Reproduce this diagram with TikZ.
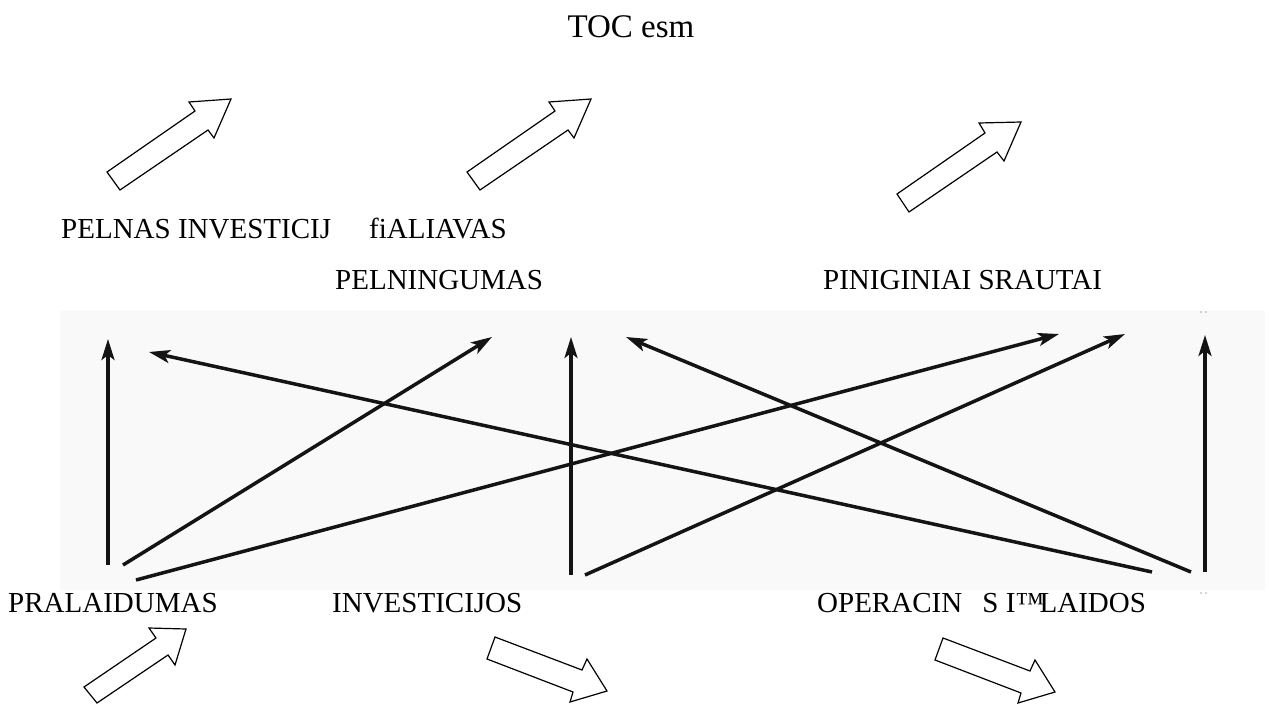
\documentclass[tikz,border=0pt]{standalone}
\usepackage{fontspec}
\setmainfont{Liberation Serif}
\usetikzlibrary{arrows.meta}
\definecolor{panelgray}{RGB}{249,249,249}
\definecolor{speck}{RGB}{170,170,170}
\begin{document}
\begin{tikzpicture}[x=1pt,y=-1pt,
  lbl/.style={font=\fontsize{29}{32}\selectfont, anchor=base west, inner sep=0pt},
  ttl/.style={font=\fontsize{33}{36}\selectfont, anchor=base, inner sep=0pt},
  blockarrow/.style={draw=black, line width=1.2pt, fill=white, line join=miter},
  link/.style={line width=3.5pt, draw=black!92, -{Stealth[length=21pt,width=13pt,inset=5pt]}},
]
\useasboundingbox (0,0) rectangle (1269,704);

% light panel behind the connectors
\fill[panelgray] (60,311) rectangle (1265,590);

% title and labels
\node[ttl] (title) at (631,37) {TOC esm};
\node[lbl] (pelnas) at (61,238) {PELNAS INVESTICIJ};
\node[lbl] (zaliavas) at (369,238) {fiALIAVAS};
\node[lbl] (pelningumas) at (335,289) {PELNINGUMAS};
\node[lbl] (srautai) at (823,289) {PINIGINIAI SRAUTAI};
\node[lbl] (pralaidumas) at (8,612) {PRALAIDUMAS};
\node[lbl] (investicijos) at (332,612) {INVESTICIJOS};
\node[lbl] (islaidos) at (817,612) {OPERACIN\hspace{0.7em}S I™\kern-0.15emLAIDOS};

% hollow block arrows pointing up-right (top row)
\foreach \dx/\dy in {0/0, 360/0} {
  \draw[blockarrow, shift={(\dx,\dy)}]
    (107,172) -- (195,111) -- (189,102) -- (231,99) -- (214,138) -- (208,130) -- (120,190) -- cycle;
}
\draw[blockarrow]
  (897,194) -- (985,133) -- (979,123) -- (1021,122) -- (1004,161) -- (997,152) -- (909,212) -- cycle;

% hollow block arrows (bottom row)
\draw[blockarrow]
  (84,687) -- (156,638) -- (149,628) -- (186,629) -- (175,665) -- (168,655) -- (97,703) -- cycle;
\foreach \dx/\dy in {0/0, 448/1} {
  \draw[blockarrow, shift={(\dx,\dy)}]
    (495,637) -- (582,670) -- (587,659) -- (607,691) -- (570,702) -- (573,692) -- (487,659) -- cycle;
}

% connector end points
\coordinate (p1) at (108,565);  \coordinate (q1) at (108,339);
\coordinate (p2) at (123,565);  \coordinate (q2) at (492,337);
\coordinate (p3) at (136,580);  \coordinate (q3) at (1059,334);
\coordinate (p4) at (1152,572); \coordinate (q4) at (149,352);
\coordinate (p5) at (571,575);  \coordinate (q5) at (571,337);
\coordinate (p6) at (585,575);  \coordinate (q6) at (1125,334);
\coordinate (p7) at (1191,572); \coordinate (q7) at (626,337);
\coordinate (p8) at (1205,572); \coordinate (q8) at (1205,335);

\foreach \i in {1,...,8} { \draw[link] (p\i) -- (q\i); }

% small specks above and below the right-hand arrow
\fill[speck] (1201,312) circle (0.9pt) (1206,312) circle (0.9pt);
\fill[speck] (1201,593) circle (0.9pt) (1206,593) circle (0.9pt);
\end{tikzpicture}
\end{document}
